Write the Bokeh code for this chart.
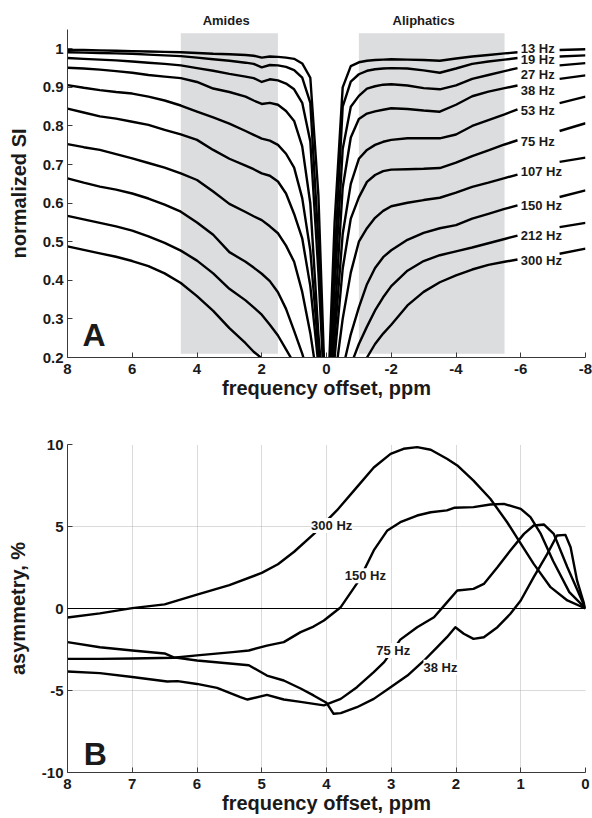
import numpy as np
from bokeh.plotting import figure
from bokeh.models import (Range1d, BoxAnnotation, Label, Span, CustomJSTickFormatter)
from bokeh.core.properties import value
from bokeh.layouts import column
from bokeh.embed import file_html
from bokeh.resources import INLINE

FONT = "Liberation Sans"

# ---------------- Panel A data: normalized SI (Z-spectra) ----------------
ppm = [8, 7.5, 7, 6.5, 6, 5.5, 5, 4.5, 4, 3.5, 3, 2.5, 2.25, 2, 1.75, 1.5, 1.25, 1, 0.75, 0.5, 0.25, 0,
       -0.25, -0.5, -0.75, -1, -1.25, -1.5, -1.75, -2, -2.5, -3, -3.5, -4, -4.5, -5, -5.5, -5.9, -7.2, -8]

si_13 = [0.997, 0.997, 0.996, 0.995, 0.994, 0.993, 0.992, 0.991, 0.989, 0.987, 0.986, 0.984, 0.982, 0.977, 0.980, 0.979, 0.977, 0.974, 0.962, 0.925, 0.62, 0.0,
         0.55, 0.90, 0.955, 0.965, 0.969, 0.971, 0.972, 0.973, 0.972, 0.971, 0.969, 0.975, 0.980, 0.984, 0.988, 0.991, 0.997, 0.999]
si_19 = [0.991, 0.990, 0.989, 0.988, 0.987, 0.985, 0.983, 0.981, 0.977, 0.973, 0.969, 0.964, 0.961, 0.952, 0.958, 0.957, 0.953, 0.945, 0.925, 0.86, 0.50, 0.0,
         0.45, 0.85, 0.915, 0.934, 0.943, 0.947, 0.949, 0.950, 0.949, 0.944, 0.938, 0.949, 0.961, 0.967, 0.972, 0.976, 0.980, 0.983]
si_27 = [0.976, 0.974, 0.972, 0.970, 0.967, 0.964, 0.961, 0.957, 0.950, 0.943, 0.935, 0.928, 0.924, 0.914, 0.921, 0.918, 0.910, 0.895, 0.860, 0.760, 0.42, 0.0,
         0.38, 0.74, 0.850, 0.878, 0.897, 0.903, 0.907, 0.908, 0.905, 0.898, 0.895, 0.905, 0.922, 0.932, 0.942, 0.950, 0.957, 0.963]
si_38 = [0.951, 0.949, 0.946, 0.942, 0.938, 0.932, 0.928, 0.924, 0.914, 0.897, 0.888, 0.876, 0.866, 0.857, 0.860, 0.855, 0.839, 0.813, 0.747, 0.599, 0.26, 0.0,
         0.30, 0.64, 0.770, 0.818, 0.832, 0.838, 0.842, 0.846, 0.844, 0.840, 0.837, 0.855, 0.877, 0.889, 0.898, 0.905, 0.922, 0.931]
si_53 = [0.906, 0.899, 0.893, 0.888, 0.884, 0.876, 0.866, 0.853, 0.837, 0.822, 0.806, 0.787, 0.777, 0.767, 0.762, 0.751, 0.728, 0.692, 0.613, 0.477, 0.22, 0.0,
         0.25, 0.52, 0.650, 0.715, 0.738, 0.751, 0.759, 0.764, 0.768, 0.768, 0.768, 0.778, 0.800, 0.815, 0.830, 0.843, 0.859, 0.876]
si_75 = [0.845, 0.835, 0.825, 0.819, 0.811, 0.803, 0.790, 0.778, 0.764, 0.738, 0.715, 0.697, 0.688, 0.677, 0.671, 0.656, 0.625, 0.572, 0.509, 0.385, 0.18, 0.0,
         0.20, 0.43, 0.560, 0.615, 0.655, 0.673, 0.683, 0.687, 0.688, 0.689, 0.691, 0.705, 0.722, 0.737, 0.752, 0.763, 0.787, 0.807]
si_107 = [0.753, 0.745, 0.738, 0.727, 0.716, 0.704, 0.692, 0.677, 0.660, 0.630, 0.598, 0.577, 0.566, 0.556, 0.540, 0.522, 0.490, 0.448, 0.370, 0.263, 0.125, 0.0,
          0.14, 0.30, 0.420, 0.500, 0.535, 0.562, 0.580, 0.592, 0.601, 0.608, 0.614, 0.627, 0.642, 0.653, 0.665, 0.674, 0.707, 0.718]
si_150 = [0.664, 0.653, 0.643, 0.635, 0.625, 0.612, 0.596, 0.578, 0.550, 0.518, 0.473, 0.448, 0.433, 0.417, 0.398, 0.369, 0.326, 0.269, 0.210, 0.141, 0.07, 0.0,
          0.08, 0.17, 0.260, 0.330, 0.390, 0.432, 0.460, 0.478, 0.505, 0.523, 0.535, 0.543, 0.560, 0.572, 0.585, 0.594, 0.616, 0.633]
si_212 = [0.567, 0.558, 0.549, 0.540, 0.529, 0.514, 0.497, 0.477, 0.451, 0.418, 0.378, 0.348, 0.330, 0.311, 0.285, 0.257, 0.221, 0.185, 0.143, 0.100, 0.05, 0.0,
          0.06, 0.12, 0.180, 0.235, 0.280, 0.322, 0.356, 0.385, 0.425, 0.450, 0.465, 0.475, 0.485, 0.496, 0.507, 0.516, 0.538, 0.549]
si_300 = [0.488, 0.479, 0.470, 0.461, 0.450, 0.437, 0.418, 0.393, 0.359, 0.321, 0.276, 0.237, 0.215, 0.198, 0.184, 0.168, 0.146, 0.125, 0.096, 0.069, 0.036, 0.0,
          0.04, 0.08, 0.120, 0.165, 0.200, 0.235, 0.262, 0.285, 0.335, 0.370, 0.395, 0.413, 0.428, 0.440, 0.448, 0.454, 0.469, 0.482]

zspectra = [si_13, si_19, si_27, si_38, si_53, si_75, si_107, si_150, si_212, si_300]
power_labels = ["13 Hz", "19 Hz", "27 Hz", "38 Hz", "53 Hz", "75 Hz", "107 Hz", "150 Hz", "212 Hz", "300 Hz"]
power_label_y = [1.0, 0.971, 0.933, 0.893, 0.839, 0.761, 0.681, 0.594, 0.515, 0.451]

region_names = ["Amides", "Aliphatics"]
region_spans = [(4.5, 1.5), (-1.0, -5.5)]
region_label_x = [3.1, -3.0]

x_ticks_a = [8, 6, 4, 2, 0, -2, -4, -6, -8]
y_ticks_a = [0.2, 0.3, 0.4, 0.5, 0.6, 0.7, 0.8, 0.9, 1.0]

# ---------------- Panel B data: asymmetry, % ----------------
asym_ppm_300 = [8, 7.5, 7, 6.5, 6, 5.5, 5, 4.75, 4.5, 4.19, 4.09, 3.84, 3.53, 3.27, 3.01, 2.81, 2.6, 2.39, 2.14, 1.98,
                1.73, 1.47, 1.21, 1.0, 0.8, 0.54, 0.28, 0]
asym_300 = [-0.55, -0.3, 0.02, 0.25, 0.85, 1.42, 2.17, 2.7, 3.46, 4.57, 4.98, 5.98, 7.4, 8.6, 9.43, 9.74, 9.84, 9.68, 9.13, 8.72,
            7.8, 6.69, 5.26, 3.95, 2.72, 1.3, 0.49, 0]

asym_ppm_150 = [8, 7.5, 7, 6.36, 6, 5.45, 5.2, 4.92, 4.66, 4.4, 4.2, 4.04, 3.78, 3.5, 3.27, 3.06, 2.86, 2.6, 2.39, 2.14,
                2.03, 1.73, 1.47, 1.26, 1.0, 0.85, 0.69, 0.5, 0.25, 0]
asym_150 = [-3.07, -3.07, -3.05, -3.0, -2.86, -2.66, -2.56, -2.26, -2.05, -1.44, -1.1, -0.73, 0.08, 1.7, 3.54, 4.76, 5.26, 5.67, 5.87, 5.98,
            6.14, 6.18, 6.34, 6.38, 6.08, 5.57, 4.55, 2.9, 1.0, 0]

asym_ppm_75 = [8, 7.5, 7, 6.46, 6.3, 6, 5.69, 5.33, 5.22, 4.92, 4.66, 4.4, 4.04, 3.78, 3.53, 3.27, 3.11, 2.86, 2.6, 2.34,
               2.2, 1.98, 1.73, 1.57, 1.36, 1.16, 0.95, 0.8, 0.64, 0.49, 0.28, 0]
asym_75 = [-3.84, -3.94, -4.18, -4.45, -4.43, -4.6, -4.84, -5.4, -5.55, -5.27, -5.55, -5.69, -5.91, -5.51, -4.8, -3.88, -3.27, -1.9, -1.14, -0.53,
           0.1, 1.1, 1.2, 1.5, 2.52, 3.54, 4.55, 5.06, 5.12, 4.55, 2.52, 0]

asym_ppm_38 = [8, 7.5, 7, 6.5, 6.36, 6, 5.45, 5.2, 4.92, 4.66, 4.4, 4.2, 4.0, 3.89, 3.78, 3.53, 3.27, 3.01, 2.75, 2.5,
               2.29, 2.14, 2.01, 1.88, 1.73, 1.57, 1.36, 1.16, 1.0, 0.8, 0.59, 0.44, 0.31, 0.23, 0.13, 0]
asym_38 = [-2.05, -2.36, -2.56, -2.74, -2.98, -3.17, -3.37, -3.46, -4.09, -4.39, -4.88, -5.3, -5.75, -6.42, -6.38, -6.02, -5.51, -4.8, -4.09, -3.2,
           -2.36, -1.75, -1.14, -1.54, -1.85, -1.75, -1.14, -0.32, 0.49, 1.91, 3.33, 4.45, 4.49, 3.74, 1.7, 0]

asym_series = [(asym_ppm_300, asym_300), (asym_ppm_150, asym_150), (asym_ppm_75, asym_75), (asym_ppm_38, asym_38)]
asym_labels = ["300 Hz", "150 Hz", "75 Hz", "38 Hz"]
asym_label_pos = [(3.92, 5.06), (3.40, 2.0), (2.97, -2.56), (2.24, -3.58)]

x_ticks_b = [0, 1, 2, 3, 4, 5, 6, 7, 8]
y_ticks_b = [-10, -5, 0, 5, 10]

# ---------------- styling helpers ----------------
AX_COLOR = "#3a3a3a"
TXT_COLOR = "#1a1a1a"
W = 592
LEFT, RIGHT = 67, 7
LW = 2.4


def style_axes(p):
    for ax in (p.xaxis[0], p.yaxis[0]):
        ax.axis_line_color = AX_COLOR
        ax.axis_line_width = 1
        ax.major_tick_line_color = AX_COLOR
        ax.major_tick_in = 5
        ax.major_tick_out = 0
        ax.minor_tick_line_color = None
        ax.major_label_text_font = FONT
        ax.major_label_text_font_style = "bold"
        ax.major_label_text_font_size = "15px"
        ax.major_label_text_color = TXT_COLOR
        ax.axis_label_text_font = FONT
        ax.axis_label_text_font_style = "bold"
        ax.axis_label_text_font_size = "20px"
        ax.axis_label_text_color = TXT_COLOR
    p.xaxis[0].major_label_standoff = 6
    p.yaxis[0].major_label_standoff = 4
    p.xaxis[0].axis_label_standoff = 0
    p.yaxis[0].axis_label_standoff = 10


int_fmt = CustomJSTickFormatter(code="return tick.toFixed(0);")
x_range_a = Range1d(8, -8)

# ---------------- strip above panel A (region names) ----------------
pTop = figure(width=W, height=29, x_range=x_range_a, y_range=Range1d(0, 1),
              x_axis_location=None, y_axis_location=None,
              output_backend="svg", toolbar_location=None,
              min_border_left=LEFT, min_border_right=RIGHT, min_border_top=0, min_border_bottom=0)
pTop.outline_line_color = None
pTop.grid.visible = False
pTop.text(x=region_label_x, y=[0.31] * len(region_label_x), text=region_names,
          text_font=value(FONT), text_font_style="bold", text_font_size="13px",
          text_color=TXT_COLOR, text_align="center", text_baseline="middle")

# ---------------- Panel A ----------------
pA = figure(width=W, height=381, x_range=x_range_a, y_range=Range1d(0.2, 1.05),
            output_backend="svg", toolbar_location=None,
            min_border_left=LEFT, min_border_right=RIGHT, min_border_top=0, min_border_bottom=53)
pA.outline_line_color = None
pA.grid.visible = False
pA.xaxis.axis_label = "frequency offset, ppm"
pA.yaxis.axis_label = "normalized SI"
pA.xaxis.ticker = x_ticks_a
pA.yaxis.ticker = y_ticks_a
pA.xaxis.formatter = int_fmt
pA.yaxis.formatter = CustomJSTickFormatter(code="return Math.abs(tick - 1) < 1e-9 ? '1' : tick.toFixed(1);")
style_axes(pA)

SHADE = "#dcdddf"
for lo, hi in region_spans:
    pA.add_layout(BoxAnnotation(left=lo, right=hi, bottom=0.21, top=1.04, fill_color=SHADE,
                                fill_alpha=1.0, line_color=None, level="underlay"))

x = np.array(ppm, dtype=float)
GAP_START, GAP_END = -5.9, -7.2   # label gap on the right side
for vals, lab, ly in zip(zspectra, power_labels, power_label_y):
    y = np.array(vals, dtype=float)
    m1 = x >= GAP_START
    m2 = x <= GAP_END
    pA.line(x[m1], y[m1], line_color="black", line_width=LW, line_join="round")
    pA.line(x[m2], y[m2], line_color="black", line_width=LW, line_join="round")
    pA.add_layout(Label(x=-6.0, y=ly, text=lab, text_align="left", text_baseline="middle",
                        text_font=FONT, text_font_style="bold", text_font_size="13px",
                        text_color=TXT_COLOR))

pA.add_layout(Label(x=7.54, y=0.258, text="A", text_align="left", text_baseline="middle",
                    text_font=FONT, text_font_style="bold", text_font_size="32px", text_color=TXT_COLOR))

# ---------------- Panel B ----------------
pB = figure(width=W, height=408, x_range=Range1d(8, 0), y_range=Range1d(-10, 10),
            output_backend="svg", toolbar_location=None,
            min_border_left=LEFT, min_border_right=RIGHT, min_border_top=34, min_border_bottom=46)
pB.outline_line_color = None
pB.xaxis.axis_label = "frequency offset, ppm"
pB.yaxis.axis_label = "asymmetry, %"
pB.xaxis.ticker = x_ticks_b
pB.yaxis.ticker = y_ticks_b
pB.xaxis.formatter = int_fmt
pB.yaxis.formatter = int_fmt
style_axes(pB)
for g in (pB.xgrid[0], pB.ygrid[0]):
    g.grid_line_color = "#b4b4b4"
    g.grid_line_dash = "1 1"
    g.grid_line_width = 1

pB.add_layout(Span(location=0, dimension="width", line_color="black", line_width=1.2))

for (xs, ys) in asym_series:
    pB.line(xs, ys, line_color="black", line_width=LW, line_join="round")

for lab, (lx, ly) in zip(asym_labels, asym_label_pos):
    pB.add_layout(Label(x=lx, y=ly, text=lab, text_align="center", text_baseline="middle",
                        text_font=FONT, text_font_style="bold", text_font_size="13px",
                        text_color=TXT_COLOR, background_fill_color="white", background_fill_alpha=1.0))

pB.add_layout(Label(x=7.75, y=-8.87, text="B", text_align="left", text_baseline="middle",
                    text_font=FONT, text_font_style="bold", text_font_size="32px", text_color=TXT_COLOR))

layout = column(pTop, pA, pB)
with open("out.html", "w") as f:
    f.write(file_html(layout, INLINE, title="Z-spectra and asymmetry"))
